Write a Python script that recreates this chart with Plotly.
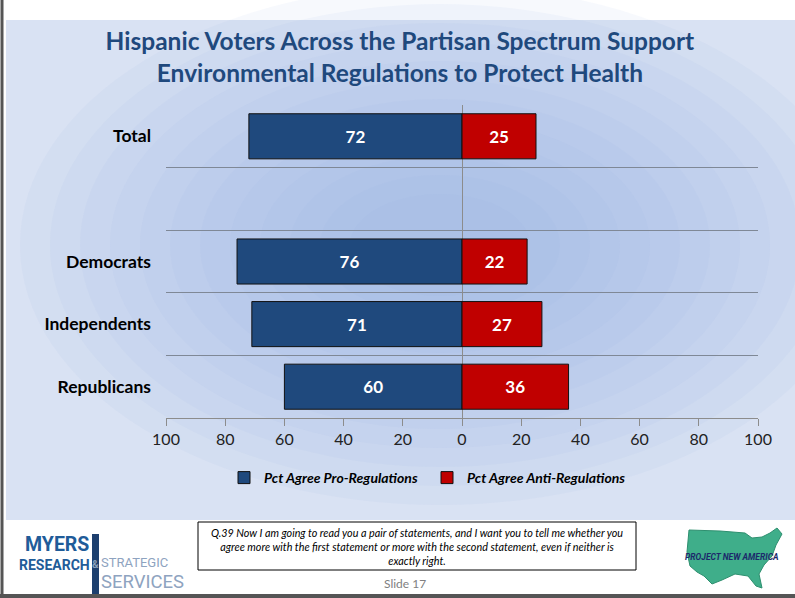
import plotly.graph_objects as go

# data
groups = ["Total", " ", "Democrats", "Independents", "Republicans"]
pro_regulations = [72, None, 76, 71, 60]
anti_regulations = [25, None, 22, 27, 36]
tick_values = [-100, -80, -60, -40, -20, 0, 20, 40, 60, 80, 100]
tick_labels = [str(abs(v)) for v in tick_values]

BLUE = "#1f497d"
RED = "#c00000"

# plot area in pixels (used to place decoration in paper coords)
L, R, T, B = 166, 758, 105, 418


def px_x(p):
    return (p - L) / (R - L)


def px_y(p):
    return (B - p) / (B - T)


fig = go.Figure()
fig.add_trace(go.Bar(
    y=groups,
    x=[-v if v is not None else None for v in pro_regulations],
    text=pro_regulations,
    name="Pct Agree Pro-Regulations",
    orientation="h",
    marker=dict(color=BLUE, line=dict(color="#111111", width=1)),
))
fig.add_trace(go.Bar(
    y=groups,
    x=anti_regulations,
    text=anti_regulations,
    name="Pct Agree Anti-Regulations",
    orientation="h",
    marker=dict(color=RED, line=dict(color="#111111", width=1)),
))
fig.update_traces(
    textposition="inside",
    insidetextanchor="middle",
    textfont=dict(family="Lato", size=17, color="white", weight="bold"),
    width=0.72,
    hoverinfo="skip",
)

# slide background: light blue panel with a soft radial glow
shapes = [
    dict(type="rect", xref="paper", yref="paper", layer="below",
         x0=px_x(6), x1=px_x(795), y0=px_y(20), y1=px_y(520),
         fillcolor="#d9e2f3", line_width=0),
]
cx, cy = 440, 245
for i in range(12):
    rx = 420 - i * 30
    ry = 260 - i * 19
    shapes.append(dict(type="circle", xref="paper", yref="paper", layer="below",
                       x0=px_x(cx - rx), x1=px_x(cx + rx),
                       y0=px_y(cy + ry), y1=px_y(cy - ry),
                       fillcolor="#94afe2", opacity=0.075, line_width=0))
# white band at the bottom of the slide for the footer
shapes.append(dict(type="rect", xref="paper", yref="paper", layer="below",
                   x0=px_x(4), x1=px_x(795), y0=px_y(598), y1=px_y(520),
                   fillcolor="white", line_width=0))
# slide border
shapes.append(dict(type="line", xref="paper", yref="paper", layer="above",
                   x0=px_x(2), x1=px_x(2), y0=px_y(0), y1=px_y(598),
                   line=dict(color="#555555", width=3)))
shapes.append(dict(type="line", xref="paper", yref="paper", layer="above",
                   x0=px_x(0), x1=px_x(795), y0=px_y(596), y1=px_y(596),
                   line=dict(color="#555555", width=4)))
# question box
shapes.append(dict(type="rect", xref="paper", yref="paper", layer="above",
                   x0=px_x(198), x1=px_x(636), y0=px_y(570), y1=px_y(522),
                   fillcolor="white", line=dict(color="black", width=1)))
# Myers logo bar
shapes.append(dict(type="rect", xref="paper", yref="paper", layer="above",
                   x0=px_x(92), x1=px_x(99), y0=px_y(594), y1=px_y(534),
                   fillcolor="#1d3f6e", line_width=0))
# rough US outline for the Project New America logo
us = [(689, 530), (720, 531), (745, 533), (752, 538), (762, 537), (770, 533),
      (777, 528), (782, 534), (776, 545), (772, 556), (764, 565), (759, 574),
      (762, 588), (756, 586), (748, 576), (735, 574), (722, 580), (712, 584),
      (704, 576), (697, 572), (690, 566), (687, 552)]
path = "M " + " L ".join(f"{px_x(a)},{px_y(b)}" for a, b in us) + " Z"
shapes.append(dict(type="path", xref="paper", yref="paper", layer="above",
                   path=path, fillcolor="#3fae8a", line=dict(color="#2e8f6f", width=1)))


def note(text, x, y, size, color, family="Roboto", xanchor="center"):
    return dict(text=text, x=px_x(x), y=px_y(y), xref="paper", yref="paper",
                showarrow=False, xanchor=xanchor, yanchor="middle", align="center",
                font=dict(family=family, size=size, color=color))


annotations = [
    note("<i>Q.39 Now I am going to read you a pair of statements, and I want you to tell me whether you<br>"
         "agree more with the first statement or more with the second statement, even if neither is<br>"
         "exactly right.</i>", 417, 546, 10.8, "black", family="Lato"),
    note("Slide 17", 405, 583, 12, "#808080", family="Lato"),
    note("<b>MYERS</b>", 91, 544, 19.5, "#1f5c99", xanchor="right"),
    note("<b>RESEARCH</b>", 92, 565, 14, "#1f5c99", xanchor="right"),
    note("<b>&</b>", 95.5, 564, 10, "#8aa0bb"),
    note("STRATEGIC", 99, 562, 13, "#8ea3c0", xanchor="left"),
    note("SERVICES", 99, 582, 18.5, "#8ea3c0", xanchor="left"),
    note("<b><i>PROJECT NEW AMERICA</i></b>", 732, 557, 8.5, "#1c2a6b"),
]

fig.update_layout(
    width=795,
    height=598,
    margin=dict(l=L, r=795 - R, t=T, b=598 - B),
    paper_bgcolor="white",
    plot_bgcolor="rgba(0,0,0,0)",
    barmode="relative",
    bargap=0.28,
    title=dict(
        text="<b>Hispanic Voters Across the Partisan Spectrum Support<br>Environmental Regulations to Protect Health</b>",
        x=0.503, xref="container", xanchor="center",
        y=1 - 50 / 598, yref="container", yanchor="middle",
        font=dict(family="Lato", size=24.5, color="#1f497d"),
    ),
    xaxis=dict(
        range=[-100, 100],
        tickvals=tick_values,
        ticktext=tick_labels,
        showgrid=False,
        zeroline=True,
        zerolinecolor="#8c8c8c",
        zerolinewidth=1,
        showline=True,
        linecolor="#8c8c8c",
        ticks="outside",
        ticklen=7,
        tickcolor="#8c8c8c",
        tickfont=dict(family="Lato", size=16, color="#222222"),
        fixedrange=True,
    ),
    yaxis=dict(
        categoryorder="array",
        categoryarray=groups[::-1],
        tickson="boundaries",
        ticks="",
        showgrid=True,
        gridcolor="#7f8896",
        gridwidth=1,
        showline=False,
        ticklabelstandoff=14,
        tickfont=dict(family="Lato", size=17.5, color="black", weight="bold"),
        fixedrange=True,
    ),
    legend=dict(
        orientation="h",
        x=px_x(224), xanchor="left",
        y=px_y(478), yanchor="middle",
        bgcolor="rgba(0,0,0,0)",
        entrywidth=158,
        entrywidthmode="pixels",
        traceorder="normal",
        font=dict(family="Lato", size=14, color="black", style="italic", weight="bold"),
        itemwidth=30,
    ),
    shapes=shapes,
    annotations=annotations,
)

fig.write_html("out.html", config={"displayModeBar": False},
               post_script="document.body.style.margin='0px';")
